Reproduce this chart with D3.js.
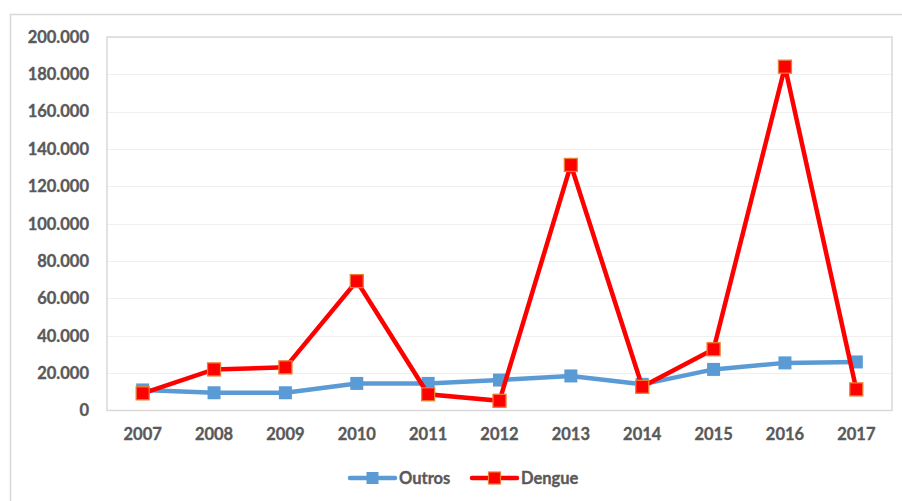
<!DOCTYPE html>
<html><head><meta charset="utf-8">
<script src="https://cdn.jsdelivr.net/npm/d3@7"></script>
<style>body{margin:0;background:#fff}svg{display:block}</style>
</head><body><svg id="c" width="902" height="501"></svg>
<script>
const years = ["2007","2008","2009","2010","2011","2012","2013","2014","2015","2016","2017"];
const outros = [11000, 9500, 9500, 14500, 14500, 16300, 18500, 14000, 22000, 25500, 26000];
const dengue = [9200, 22000, 23100, 69300, 8700, 5200, 131500, 12700, 32800, 184100, 11300];
const yTicks = [0,20000,40000,60000,80000,100000,120000,140000,160000,180000,200000];

const svg = d3.select("#c");
svg.append("rect").attr("x",10.5).attr("y",14.5).attr("width",905).attr("height",500)
  .attr("fill","#fff").attr("stroke","#d9d9d9").attr("stroke-width",1.5);

const L=107,R=892,T=37,B=410.5;
const x = d3.scaleBand().domain(years).range([L,R]);
const y = d3.scaleLinear().domain([0,200000]).range([B,T]);
const fmt = v => v===0 ? "0" : d3.format(",")(v).replace(/,/g,".");
const font = "Lato, 'Open Sans', sans-serif";
const gc = "#595959";

svg.append("g").selectAll("line").data(yTicks.slice(1)).join("line")
  .attr("x1",L).attr("x2",R).attr("y1",d=>Math.round(y(d))+0.5).attr("y2",d=>Math.round(y(d))+0.5)
  .attr("stroke","#efefef").attr("stroke-width",1);
svg.append("rect").attr("x",L).attr("y",T).attr("width",R-L).attr("height",B-T)
  .attr("fill","none").attr("stroke","#d9d9d9").attr("stroke-width",1.5);

function styleText(sel, size){
  sel.attr("font-family",font).attr("font-weight","bold").attr("font-size",size)
     .attr("fill",gc).attr("stroke",gc).attr("stroke-width",0.35);
}

const yAxis = svg.append("g").attr("transform",`translate(${L},0)`)
  .call(d3.axisLeft(y).tickValues(yTicks).tickFormat(fmt).tickSize(0).tickPadding(18));
yAxis.select(".domain").remove();
styleText(yAxis.selectAll("text"), 16.5);

const xAxis = svg.append("g").attr("transform",`translate(0,${B})`)
  .call(d3.axisBottom(x).tickSize(0).tickPadding(18));
xAxis.select(".domain").remove();
styleText(xAxis.selectAll("text"), 16.5);

const cx = d => x(d)+x.bandwidth()/2;
const line = d3.line().x((d,i)=>cx(years[i])).y(d=>y(d));

svg.append("path").datum(outros).attr("d",line).attr("fill","none")
  .attr("stroke","#5b9bd5").attr("stroke-width",4.5).attr("stroke-linejoin","round");
const ms=13;
svg.append("g").selectAll("rect").data(outros).join("rect")
  .attr("x",(d,i)=>cx(years[i])-ms/2).attr("y",d=>y(d)-ms/2).attr("width",ms).attr("height",ms)
  .attr("fill","#5b9bd5");

svg.append("path").datum(dengue).attr("d",line).attr("fill","none")
  .attr("stroke","#ff0000").attr("stroke-width",4.5).attr("stroke-linejoin","miter");
svg.append("g").selectAll("rect").data(dengue).join("rect")
  .attr("x",(d,i)=>cx(years[i])-ms/2).attr("y",d=>y(d)-ms/2).attr("width",ms).attr("height",ms)
  .attr("fill","#ff0000").attr("stroke","#ed7d31").attr("stroke-width",1.3);

const legend = [{name:"Outros",c:"#5b9bd5",s:null,x0:350},{name:"Dengue",c:"#ff0000",s:"#ed7d31",x0:472}];
const ly=478;
legend.forEach(l=>{
  const g=svg.append("g");
  g.append("line").attr("x1",l.x0).attr("x2",l.x0+45).attr("y1",ly).attr("y2",ly)
    .attr("stroke",l.c).attr("stroke-width",4.5).attr("stroke-linecap","round");
  g.append("rect").attr("x",l.x0+22.5-6).attr("y",ly-6).attr("width",12).attr("height",12)
    .attr("fill",l.c).attr("stroke",l.s||"none").attr("stroke-width",1.2);
  styleText(g.append("text").attr("x",l.x0+49).attr("y",ly+6).text(l.name), 16.5);
});
</script></body></html>
